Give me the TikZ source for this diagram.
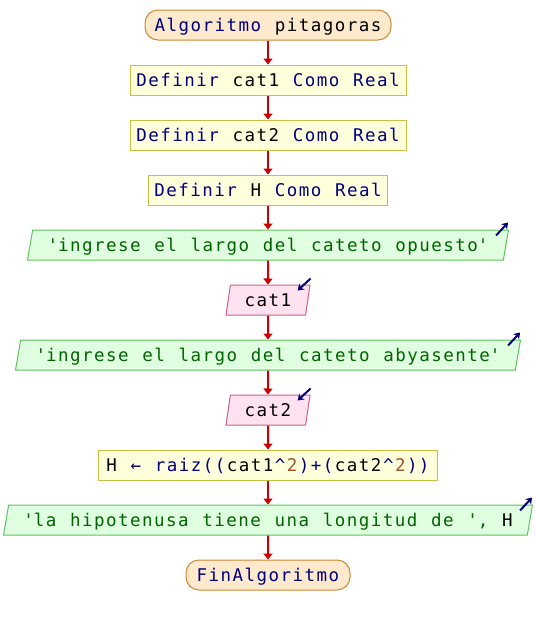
\documentclass[tikz,border=0pt]{standalone}
\usepackage{fontspec}
\usepackage{xcolor}
\usetikzlibrary{arrows.meta,shapes.geometric,positioning}

\newfontfamily\psfont{DejaVu Sans Mono}[LetterSpace=8.4,WordSpace=1.14]
\definecolor{kwblue}{HTML}{000080}
\definecolor{strgreen}{HTML}{006400}
\definecolor{numbrown}{HTML}{A0522D}
\definecolor{flowred}{HTML}{CC0000}
\definecolor{termfill}{HTML}{FDE9CB}
\definecolor{termline}{HTML}{CC8833}
\definecolor{deffill}{HTML}{FFFFDC}
\definecolor{defline}{HTML}{C8C040}
\definecolor{outfill}{HTML}{E0FFE0}
\definecolor{outline}{HTML}{5CC45C}
\definecolor{infill}{HTML}{FFE2F0}
\definecolor{inline}{HTML}{C8628E}
\newcommand{\pkw}[1]{\textcolor{kwblue}{#1}}
\newcommand{\pstr}[1]{\textcolor{strgreen}{#1}}
\newcommand{\pnum}[1]{\textcolor{numbrown}{#1}}
\newcommand{\apos}{\textquotesingle}
\newcommand{\lsk}{\kern1.47pt}

\begin{document}
\begin{tikzpicture}[x=1pt,y=1pt,>={Triangle[width=9pt,length=6pt]},node distance=55pt,
    every node/.style={font=\psfont\fontsize{17.5}{20}\selectfont,text height=12.8pt,text depth=0pt,minimum height=30pt,inner sep=0pt},
    term node/.style={rectangle,rounded corners=13pt,draw=termline,fill=termfill,line width=1pt},
    def node/.style={rectangle,draw=defline,fill=deffill,line width=1pt},
    out node/.style={trapezium,trapezium left angle=68,trapezium right angle=112,trapezium stretches body,draw=outline,fill=outfill,line width=1pt},
    in node/.style={trapezium,trapezium left angle=71,trapezium right angle=109,trapezium stretches body,draw=inline,fill=infill,line width=1pt},
    flow/.style={->,draw=flowred,line width=2pt},
    io mark/.style={-{Stealth[length=6pt,width=8pt]},draw=kwblue,line width=2pt}]

    \useasboundingbox (0,0) rectangle (536,-625);

    \node[term node, minimum width=246pt] (1) at (268,-25) {\pkw{Algoritmo} pitagoras};
    \node[def node, minimum width=276pt] (2) [below of = 1] {\pkw{Definir} cat1 \pkw{Como} \pkw{Real}};
    \node[def node, minimum width=276pt] (3) [below of = 2] {\pkw{Definir} cat2 \pkw{Como} \pkw{Real}};
    \node[def node, minimum width=239pt] (4) [below of = 3] {\pkw{Definir} H \pkw{Como} \pkw{Real}};
    \node[out node, minimum width=481pt] (5) [below of = 4] {\pstr{\apos ingrese el largo del cateto opuesto\apos}};
    \node[in node, minimum width=84pt] (6) [below of = 5] {cat1};
    \node[out node, minimum width=505pt] (7) [below of = 6] {\pstr{\apos ingrese el largo del cateto abyasente\apos}};
    \node[in node, minimum width=84pt] (8) [below of = 7] {cat2};
    \node[def node, minimum width=339pt] (9) [below of = 8] {H \pkw{← raiz((}\lsk cat1\lsk\pkw{\textasciicircum}\lsk\pnum{2}\lsk\pkw{)+(}\lsk cat2\lsk\pkw{\textasciicircum}\lsk\pnum{2}\lsk\pkw{))}};
    \node[out node, minimum width=529pt] (10) [below of = 9] {\pstr{\apos la hipotenusa tiene una longitud de \apos,} H};
    \node[term node, minimum width=164pt] (11) [below of = 10] {\pkw{FinAlgoritmo}};

    \draw[flow] (1) -- (2);
    \draw[flow] (2) -- (3);
    \draw[flow] (3) -- (4);
    \draw[flow] (4) -- (5);
    \draw[flow] (5) -- (6);
    \draw[flow] (6) -- (7);
    \draw[flow] (7) -- (8);
    \draw[flow] (8) -- (9);
    \draw[flow] (9) -- (10);
    \draw[flow] (10) -- (11);

    % marcas de entrada / salida
    \foreach \n in {5,7,10}
        \draw[io mark] ([shift={(-13,-6)}]\n.top right corner) -- ([shift={(-1,7)}]\n.top right corner);
    \foreach \n in {6,8}
        \draw[io mark] ([shift={(0,6)}]\n.top right corner) -- ([shift={(-13,-6)}]\n.top right corner);
\end{tikzpicture}
\end{document}
